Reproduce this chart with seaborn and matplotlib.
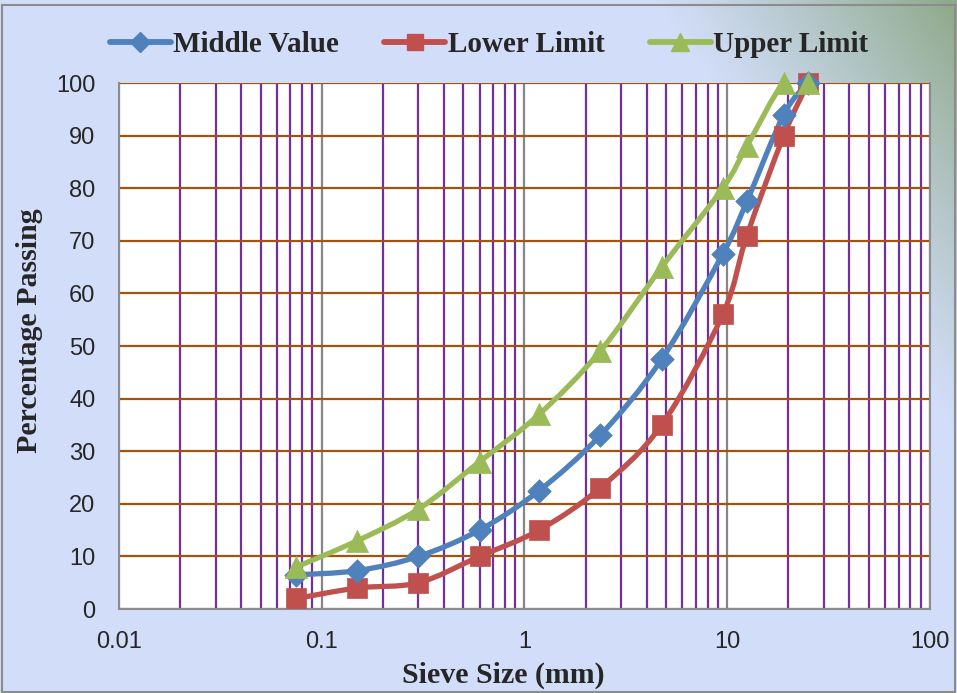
import numpy as np
import pandas as pd
import matplotlib
matplotlib.use("Agg")
import matplotlib.pyplot as plt
from matplotlib.path import Path
from matplotlib.patches import PathPatch, Rectangle
from matplotlib.lines import Line2D
from matplotlib.ticker import LogLocator, NullFormatter
import seaborn as sns

# Sieve analysis gradation data
sieve_mm = [0.075, 0.15, 0.3, 0.6, 1.18, 2.36, 4.75, 9.5, 12.5, 19, 25]
middle_value = [6.5, 7.3, 10, 15, 22.5, 33, 47.5, 67.5, 77.5, 94, 100]
lower_limit = [2, 4, 5, 10, 15, 23, 35, 56, 71, 90, 100]
upper_limit = [8, 13, 19, 28, 37, 49, 65, 80, 88, 100, 100]

series_names = ["Middle Value", "Lower Limit", "Upper Limit"]
y_ticks = [0, 10, 20, 30, 40, 50, 60, 70, 80, 90, 100]
x_ticks = [0.01, 0.1, 1, 10, 100]
x_tick_labels = ["0.01", "0.1", "1", "10", "100"]

df = pd.DataFrame({
    "Sieve": sieve_mm * 3,
    "Passing": middle_value + lower_limit + upper_limit,
    "Series": [series_names[0]] * len(sieve_mm)
              + [series_names[1]] * len(sieve_mm)
              + [series_names[2]] * len(sieve_mm),
})

colors = {"Middle Value": "#4F81BD", "Lower Limit": "#C0504D", "Upper Limit": "#9BBB59"}
markers = {"Middle Value": "D", "Lower Limit": "s", "Upper Limit": "^"}
msizes = {"Middle Value": 12, "Lower Limit": 14, "Upper Limit": 16}

sns.set_style("white")
plt.rcParams["font.family"] = ["Liberation Sans", "DejaVu Sans"]

fig = plt.figure(figsize=(9.57, 6.93), dpi=100)

# Background: pale lavender with a green wash toward the upper right corner
bg = fig.add_axes([0, 0, 1, 1], zorder=-10)
H, W = 693, 957
yy, xx = np.mgrid[0:H, 0:W]
d = (W - xx) + 0.7 * yy
t = np.clip(1 - d / 310.0, 0, 1) ** 1.15
c0 = np.array([0.827, 0.871, 0.980])
c1 = np.array([0.553, 0.659, 0.533])
img = c0[None, None, :] * (1 - t[..., None]) + c1[None, None, :] * t[..., None]
bg.imshow(img, aspect="auto", extent=[0, 1, 0, 1], origin="upper")
bg.set_axis_off()
fig.patches.append(Rectangle((0.002, 0.002), 0.996, 0.991, transform=fig.transFigure,
                             fill=False, edgecolor="#8C8C8C", linewidth=1.5, zorder=-5))

ax = fig.add_axes([0.1243, 0.1212, 0.8475, 0.759])
ax.set_facecolor("white")
ax.set_xscale("log")
ax.set_xlim(0.01, 100)
ax.set_ylim(0, 100)

# Gridlines: purple minor verticals, grey decade lines, brown horizontals
ax.xaxis.set_minor_locator(LogLocator(base=10, subs=np.arange(2, 10)))
ax.xaxis.set_minor_formatter(NullFormatter())
ax.set_xticks(x_ticks)
ax.set_xticklabels(x_tick_labels)
ax.set_yticks(y_ticks)
ax.grid(which="minor", axis="x", color="#7030A0", linewidth=1.6, zorder=0)
ax.grid(which="major", axis="x", color="#868686", linewidth=1.6, zorder=0)
ax.grid(which="major", axis="y", color="#A5520F", linewidth=1.6, zorder=0)
ax.set_axisbelow(True)

for s in ["left", "bottom", "right"]:
    ax.spines[s].set_color("#8C8C8C")
    ax.spines[s].set_linewidth(1.5)
ax.spines["top"].set_visible(False)

ax.tick_params(axis="x", which="major", length=7, width=1.5, color="#8C8C8C",
               labelsize=17, pad=9)
ax.tick_params(axis="x", which="minor", length=0)
ax.tick_params(axis="y", length=0, labelsize=17, pad=17)


def smooth_path(xs, ys):
    """Catmull-Rom style Bezier through the points, built in log-x space."""
    lx = np.log10(np.asarray(xs, float))
    y = np.asarray(ys, float)
    pts = np.column_stack([lx, y])
    n = len(pts)
    verts = [pts[0]]
    codes = [Path.MOVETO]
    for i in range(n - 1):
        p0 = pts[i - 1] if i > 0 else pts[i]
        p1 = pts[i]
        p2 = pts[i + 1]
        p3 = pts[i + 2] if i + 2 < n else pts[i + 1]
        c1 = p1 + (p2 - p0) / 6.0
        c2 = p2 - (p3 - p1) / 6.0
        verts += [c1, c2, p2]
        codes += [Path.CURVE4] * 3
    verts = np.array(verts)
    verts[:, 0] = 10 ** verts[:, 0]
    return Path(verts, codes)


# Draw lower, then middle, then upper so the upper series sits on top
for name in ["Lower Limit", "Middle Value", "Upper Limit"]:
    sub = df[df["Series"] == name]
    patch = PathPatch(smooth_path(sub["Sieve"], sub["Passing"]), facecolor="none",
                      edgecolor=colors[name], linewidth=3.8, zorder=3,
                      capstyle="round", joinstyle="round")
    ax.add_patch(patch)
    sns.scatterplot(data=sub, x="Sieve", y="Passing", ax=ax, marker=markers[name],
                    s=msizes[name] ** 2, color=colors[name], edgecolor=colors[name],
                    linewidth=0.5, zorder=4, legend=False, clip_on=False)

ax.set_xlim(0.01, 100)
ax.set_ylim(0, 100)
ax.set_xlabel("Sieve Size (mm)", fontfamily="Liberation Serif", fontweight="bold",
              fontsize=21.5)
ax.set_ylabel("Percentage Passing", fontfamily="Liberation Serif", fontweight="bold",
              fontsize=21.5)
ax.xaxis.set_label_coords(0.474, -0.100)
ax.yaxis.set_label_coords(-0.094, 0.530)

handles = [Line2D([0], [0], color=colors[n], marker=markers[n], markersize=msizes[n] * 0.85,
                  linewidth=4.2, markeredgecolor=colors[n]) for n in series_names]
leg = fig.legend(handles, series_names, loc="center", bbox_to_anchor=(0.511, 0.936),
                 ncol=3, frameon=False, handlelength=2.1, handletextpad=0.08,
                 columnspacing=1.55,
                 prop={"family": "Liberation Serif", "weight": "bold", "size": 21})

fig.savefig("out.png", dpi=100)
